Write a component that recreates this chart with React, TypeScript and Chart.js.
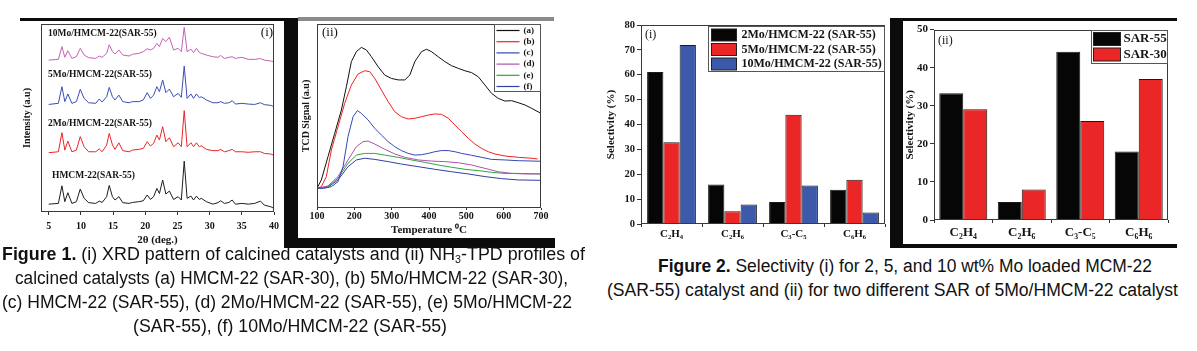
import React, { useEffect, useLayoutEffect, useRef } from 'react';
import { Chart, registerables } from 'chart.js';
Chart.register(...registerables);

// ---------------- DATA ----------------
// Figure 1 (i): XRD patterns (2θ in degrees, intensity in a.u.)
const xrdTheta = [5, 6.5, 7.05, 7.5, 7.97, 8.6, 9.3, 9.9, 10.5, 11.2, 12.3, 12.85, 13.3, 14.0, 14.4, 14.9, 15.3, 15.9, 16.5, 17.5, 18.0, 19.0, 19.7, 20.3, 20.8, 21.3, 21.8, 22.2, 22.7, 23.2, 23.75, 24.4, 25.1, 25.6, 26.05, 26.5, 27.1, 27.5, 27.95, 28.4, 28.7, 29.5, 30.5, 31.3, 31.7, 32.3, 33.0, 33.5, 34.0, 35.0, 36.0, 37.0, 37.9, 38.5, 39.5, 40];
const xrdHMCM = [3.7, 4.1, 13.5, 5.0, 9.8, 4.1, 5.0, 11.8, 6.8, 4.5, 4.1, 5.3, 4.6, 7.7, 13.7, 7.7, 5.9, 7.7, 4.5, 4.1, 4.6, 5.0, 5.5, 8.6, 6.2, 7.7, 12.1, 9.4, 16.6, 9.1, 10.7, 6.2, 7.7, 5.9, 26.7, 6.8, 8.0, 5.9, 8.0, 6.2, 6.8, 5.0, 3.7, 4.5, 5.5, 4.1, 4.6, 5.9, 3.7, 4.1, 3.7, 4.1, 5.3, 3.2, 2.3, 1.4];
const xrd2Mo = [31.2, 31.7, 41.9, 32.6, 37.4, 31.7, 32.6, 39.8, 34.4, 31.7, 31.7, 33.2, 31.7, 35.3, 41.5, 35.3, 33.0, 36.5, 32.3, 31.7, 32.6, 33.0, 33.5, 37.1, 34.8, 36.2, 40.6, 38.0, 45.1, 37.1, 39.2, 34.4, 36.5, 34.4, 53.7, 34.4, 36.5, 34.4, 36.5, 34.4, 34.9, 33.0, 32.3, 32.3, 33.0, 31.7, 32.3, 33.0, 31.7, 31.7, 31.4, 31.7, 31.7, 30.8, 30.5, 29.8];
const xrd5Mo = [57.0, 57.6, 66.5, 58.5, 62.6, 57.6, 58.5, 65.1, 60.2, 57.9, 57.6, 59.9, 58.3, 61.1, 66.1, 61.1, 59.4, 62.0, 58.5, 57.9, 58.5, 58.5, 59.4, 63.3, 60.2, 62.0, 66.5, 63.8, 70.1, 63.3, 65.2, 61.1, 62.9, 60.8, 77.5, 60.2, 62.6, 60.2, 62.6, 60.6, 61.1, 59.4, 57.9, 57.9, 58.5, 57.6, 57.9, 59.0, 57.2, 57.6, 57.2, 57.0, 57.9, 56.9, 56.5, 55.8];
const xrd10Mo = [80.7, 81.1, 87.9, 82.2, 85.7, 81.6, 82.5, 87.0, 83.4, 82.0, 81.6, 82.9, 82.2, 84.3, 88.9, 85.2, 84.0, 86.1, 83.4, 82.9, 83.8, 84.3, 85.2, 86.8, 86.1, 87.0, 89.7, 87.9, 92.3, 90.6, 92.9, 86.1, 87.0, 85.2, 98.2, 85.2, 86.5, 84.7, 87.0, 84.7, 84.3, 83.4, 82.5, 82.2, 83.2, 81.6, 82.2, 82.5, 81.6, 82.2, 81.1, 81.1, 81.5, 80.7, 80.2, 79.9];
const xrdNames = ['HMCM-22(SAR-55)', '2Mo/HMCM-22(SAR-55)', '5Mo/HMCM-22(SAR-55)', '10Mo/HMCM-22(SAR-55)'];
const xrdTicks = [5, 10, 15, 20, 25, 30, 35, 40];

// Figure 1 (ii): NH3-TPD profiles (temperature °C, TCD signal a.u.)
const tpdTempA = [100, 111.6, 129.5, 147.4, 165.3, 178.7, 192.1, 205.5, 218.9, 232.3, 245.8, 263.6, 281.5, 299.4, 317.3, 335.2, 348.6, 362.0, 379.9, 393.3, 406.7, 424.6, 442.4, 460.3, 478.2, 496.1, 514.0, 531.9, 549.7, 567.6, 585.5, 603.4, 621.3, 639.1, 657.0, 674.9, 700];
const tpdSigA = [12.1, 16.6, 29.1, 41.5, 54.0, 66.5, 79.9, 85.2, 87.5, 86.1, 82.5, 77.2, 72.7, 70.9, 70.1, 70.1, 72.7, 79.9, 85.2, 86.5, 85.2, 82.5, 79.9, 77.7, 76.3, 75.0, 74.0, 71.8, 67.4, 62.9, 60.2, 58.8, 59.0, 57.9, 56.7, 54.9, 52.2];
const tpdTempB = [100, 111.6, 125, 138.5, 156.3, 174.2, 192.1, 210, 227.9, 241.3, 254.7, 272.6, 290.5, 308.3, 326.2, 344.1, 362, 379.9, 397.8, 415.6, 433.5, 451.4, 469.3, 487.2, 505.1, 523, 540.8, 558.7, 576.6, 603.4, 639.1, 674.9, 691];
const tpdSigB = [12.1, 13.0, 18.4, 32.6, 45.1, 57.6, 67.4, 73.3, 75.0, 74.5, 70.9, 64.7, 58.5, 53.1, 50.4, 49.2, 49.6, 50.4, 51.3, 51.9, 51.7, 49.6, 46.0, 42.4, 38.9, 35.8, 33.5, 31.7, 30.5, 29.4, 28.7, 28.2, 27.8];
const tpdTempC = [100, 117.5, 138.5, 156.3, 169.7, 183.1, 196.6, 208.2, 218.9, 236.8, 254.7, 272.6, 290.5, 308.3, 326.2, 344.1, 362, 379.9, 397.8, 415.6, 433.5, 451.4, 469.3, 487.2, 514, 540.8, 567.6, 603.4, 639.1, 700];
const tpdSigC = [12.1, 12.1, 13.0, 15.7, 23.7, 39.8, 50.4, 53.7, 52.2, 48.7, 44.2, 40.6, 37.1, 34.4, 32.3, 30.8, 29.9, 30.1, 30.8, 31.7, 32.3, 32.3, 31.7, 30.8, 29.8, 28.7, 27.6, 27.3, 26.9, 26.6];
const tpdTempD = [100, 129.5, 156.3, 183.1, 205.5, 223.4, 236.8, 254.7, 281.5, 308.3, 335.2, 371, 406.7, 442.4, 478.2, 514, 549.7, 585.5, 621.3, 657, 700];
const tpdSigD = [12.1, 13.4, 18.4, 27.3, 34.4, 37.1, 37.4, 35.8, 33.0, 30.5, 28.7, 27.3, 26.7, 26.4, 25.8, 24.6, 22.8, 21.0, 20.1, 19.8, 19.8];
const tpdTempE = [100, 129.5, 156.3, 183.1, 205.5, 227.9, 254.7, 281.5, 317.3, 353, 388.8, 424.6, 460.3, 496.1, 531.9, 567.6, 603.4, 639.1, 700];
const tpdSigE = [12.1, 13.0, 17.5, 25.5, 29.9, 30.8, 30.8, 29.9, 28.7, 27.3, 26.0, 24.6, 23.4, 22.3, 21.6, 20.7, 20.1, 20.1, 19.8];
const tpdTempF = [100, 129.5, 156.3, 183.1, 205.5, 227.9, 254.7, 290.5, 326.2, 371, 415.6, 460.3, 505.1, 549.7, 594.4, 639.1, 700];
const tpdSigF = [12.1, 12.7, 16.6, 23.7, 27.3, 28.2, 27.6, 26.4, 25.1, 23.7, 22.3, 21.0, 19.8, 18.4, 17.3, 16.6, 16.4];
const tpdNames = ['(a)', '(b)', '(c)', '(d)', '(e)', '(f)'];

// Figure 2: selectivity (%)
const selCategories = ['C₂H₄', 'C₂H₆', 'C₃-C₅', 'C₆H₆'];
const selMoNames = ['2Mo/HMCM-22 (SAR-55)', '5Mo/HMCM-22 (SAR-55)', '10Mo/HMCM-22 (SAR-55)'];
const sel2Mo = [61.1, 15.9, 8.8, 13.8];
const sel5Mo = [32.9, 5.1, 43.9, 17.8];
const sel10Mo = [72.0, 7.8, 15.5, 4.6];
const selSarNames = ['SAR-55', 'SAR-30'];
const selSar55 = [33.3, 4.7, 44.2, 18.0];
const selSar30 = [29.1, 8.0, 26.0, 37.0];

// ---------------- STYLE ----------------
const SERIF = '"Liberation Serif", "Times New Roman", serif';
const SANS = '"Liberation Sans", Arial, sans-serif';
const INK = '#141414';
const RED = '#ea2626';
const BLUE = '#3d59aa';

Chart.defaults.font.family = SERIF;
Chart.defaults.color = INK;

const bf = (size: number) => ({ family: SERIF, size, weight: 'bold' as const });

type Note = { text: string; dx: number; dy: number; font: string; align?: CanvasTextAlign };
type Leg = { kind: 'line' | 'box'; width: number; height: number; dyTop: number; first: number; rowH: number; swX: number; swW: number; swH: number; textX: number; font: string };

function overlay(notes: Note[], leg?: Leg) {
  return {
    id: 'overlay',
    afterDraw(chart: any) {
      const { ctx, chartArea: a } = chart;
      ctx.save();
      const L = Math.round(a.left) + 0.5, T = Math.round(a.top) + 0.5;
      const R = Math.round(a.right) - 0.5, B = Math.round(a.bottom) - 0.5;
      ctx.strokeStyle = '#3a3a3a';
      ctx.lineWidth = 1;
      ctx.strokeRect(L, T, R - L, B - T);
      ctx.fillStyle = INK;
      ctx.textBaseline = 'middle';
      for (const n of notes) {
        ctx.font = n.font;
        ctx.textAlign = n.align || 'left';
        ctx.fillText(n.text, a.left + n.dx, a.top + n.dy);
      }
      if (leg) {
        const x0 = Math.round(a.right - leg.width) + 0.5;
        const y0 = Math.round(a.top + leg.dyTop) + 0.5;
        ctx.fillStyle = '#fff';
        ctx.fillRect(x0, y0, leg.width - 1, leg.height);
        ctx.strokeStyle = '#555';
        ctx.strokeRect(x0, y0, leg.width - 1, leg.height);
        chart.data.datasets.forEach((ds: any, i: number) => {
          const cy = y0 + leg.first + i * leg.rowH;
          if (leg.kind === 'line') {
            ctx.strokeStyle = ds.borderColor;
            ctx.lineWidth = 1.2;
            ctx.beginPath();
            ctx.moveTo(x0 + leg.swX, cy);
            ctx.lineTo(x0 + leg.swX + leg.swW, cy);
            ctx.stroke();
          } else {
            ctx.fillStyle = ds.backgroundColor;
            ctx.fillRect(x0 + leg.swX, cy - leg.swH / 2, leg.swW, leg.swH);
            ctx.strokeStyle = '#222';
            ctx.lineWidth = 1;
            ctx.strokeRect(x0 + leg.swX, cy - leg.swH / 2, leg.swW, leg.swH);
          }
          ctx.fillStyle = INK;
          ctx.font = leg.font;
          ctx.textAlign = 'left';
          ctx.fillText(ds.label, x0 + leg.textX, cy);
        });
      }
      ctx.restore();
    },
  };
}

const pts = (xs: number[], ys: number[]) => xs.map((x, i) => ({ x, y: ys[i] }));
const lineDs = (label: string, data: any[], color: string) => ({
  label, data, borderColor: color, backgroundColor: color, borderWidth: 1, pointRadius: 0, tension: 0,
});
const hiddenGrid = { display: false };
const tickGrid = (len: number) => ({ drawOnChartArea: false, drawTicks: true, tickLength: len, color: '#333' });

function xrdConfig(): any {
  return {
    type: 'line',
    data: {
      datasets: [
        lineDs(xrdNames[0], pts(xrdTheta, xrdHMCM), '#1e1e1e'),
        lineDs(xrdNames[1], pts(xrdTheta, xrd2Mo), '#ec2424'),
        lineDs(xrdNames[2], pts(xrdTheta, xrd5Mo), '#3b4db3'),
        lineDs(xrdNames[3], pts(xrdTheta, xrd10Mo), '#c462b6'),
      ],
    },
    options: {
      animation: false, responsive: false, devicePixelRatio: 1,
      layout: { padding: { left: 0, top: 8, right: 7, bottom: 0 } },
      plugins: { legend: { display: false }, tooltip: { enabled: false } },
      scales: {
        x: {
          type: 'linear', min: 3.8, max: 40,
          afterFit: (s: any) => { s.height = 38; },
          afterBuildTicks: (s: any) => { s.ticks = xrdTicks.map((v) => ({ value: v })); },
          ticks: { font: bf(10), color: INK, padding: 5, maxRotation: 0, autoSkip: false },
          grid: tickGrid(3), border: { display: false },
          title: { display: true, text: '2θ (deg.)', color: INK, font: bf(11), padding: { top: 0, bottom: 3 } },
        },
        y: {
          min: -0.5, max: 100,
          afterFit: (s: any) => { s.width = 31; },
          ticks: { display: false }, grid: hiddenGrid, border: { display: false },
          title: { display: true, text: 'Intensity (a.u)', color: INK, font: bf(10), padding: { top: 11, bottom: 0 } },
        },
      },
    },
    plugins: [overlay([
      { text: xrdNames[3], dx: 7, dy: 10, font: `bold 9.5px ${SERIF}` },
      { text: xrdNames[2], dx: 7, dy: 51, font: `bold 9.5px ${SERIF}` },
      { text: xrdNames[1], dx: 7, dy: 100, font: `bold 9.5px ${SERIF}` },
      { text: xrdNames[0], dx: 11, dy: 152, font: `bold 9.5px ${SERIF}` },
      { text: '(i)', dx: 226, dy: 9, font: `13px ${SERIF}`, align: 'center' },
    ])],
  };
}

function tpdConfig(): any {
  return {
    type: 'line',
    data: {
      datasets: [
        lineDs(tpdNames[0], pts(tpdTempA, tpdSigA), '#111111'),
        lineDs(tpdNames[1], pts(tpdTempB, tpdSigB), '#ee2222'),
        lineDs(tpdNames[2], pts(tpdTempC, tpdSigC), '#3448b2'),
        lineDs(tpdNames[3], pts(tpdTempD, tpdSigD), '#b24fb2'),
        lineDs(tpdNames[4], pts(tpdTempE, tpdSigE), '#2fa53a'),
        lineDs(tpdNames[5], pts(tpdTempF, tpdSigF), '#2f3fa6'),
      ],
    },
    options: {
      animation: false, responsive: false, devicePixelRatio: 1,
      layout: { padding: { left: 0, top: 10, right: 13, bottom: 0 } },
      plugins: { legend: { display: false }, tooltip: { enabled: false } },
      scales: {
        x: {
          type: 'linear', min: 100, max: 700,
          afterFit: (s: any) => { s.height = 30; },
          ticks: { stepSize: 100, font: bf(10), color: INK, padding: 0, maxRotation: 0, autoSkip: false },
          grid: tickGrid(2), border: { display: false },
          title: { display: true, text: 'Temperature ⁰C', color: INK, font: bf(11), padding: { top: 0, bottom: 1 } },
        },
        y: {
          min: 1.6, max: 100,
          afterFit: (s: any) => { s.width = 19; },
          ticks: { display: false }, grid: hiddenGrid, border: { display: false },
          title: { display: true, text: 'TCD Signal (a.u)', color: INK, font: bf(10), padding: { top: 2, bottom: 0 } },
        },
      },
    },
    plugins: [overlay(
      [{ text: '(ii)', dx: 5, dy: 9, font: `13px ${SERIF}` }],
      { kind: 'line', width: 47, height: 67, dyTop: 0, first: 6, rowH: 11.2, swX: 2, swW: 23, swH: 0, textX: 29, font: `bold 9px ${SERIF}` },
    )],
  };
}

const barDs = (label: string, data: number[], color: string, cat: number) => ({
  label, data, backgroundColor: color, borderColor: '#1a1a1a', borderWidth: 1,
  categoryPercentage: cat, barPercentage: 1.0,
});

function sel1Config(): any {
  return {
    type: 'bar',
    data: {
      labels: selCategories,
      datasets: [
        barDs(selMoNames[0], sel2Mo, '#060606', 0.8),
        barDs(selMoNames[1], sel5Mo, RED, 0.8),
        barDs(selMoNames[2], sel10Mo, BLUE, 0.8),
      ],
    },
    options: {
      animation: false, responsive: false, devicePixelRatio: 1,
      layout: { padding: { left: 0, top: 11, right: 5, bottom: 0 } },
      plugins: { legend: { display: false }, tooltip: { enabled: false } },
      scales: {
        x: {
          afterFit: (s: any) => { s.height = 30; },
          ticks: { font: bf(11), color: INK, padding: 1, maxRotation: 0 },
          grid: tickGrid(3), border: { display: false },
        },
        y: {
          min: 0, max: 80,
          afterFit: (s: any) => { s.width = 51; },
          ticks: { stepSize: 10, font: bf(10.5), color: INK, padding: 2 },
          grid: tickGrid(4), border: { display: false },
          title: { display: true, text: 'Selectivity (%)', color: INK, font: bf(11), padding: { top: 15, bottom: 0 } },
        },
      },
    },
    plugins: [overlay(
      [{ text: '(i)', dx: 4, dy: 10, font: `12px ${SERIF}` }],
      { kind: 'box', width: 177, height: 45, dyTop: 1, first: 8.5, rowH: 14.5, swX: 3, swW: 25, swH: 12, textX: 33, font: `bold 12px ${SERIF}` },
    )],
  };
}

function sel2Config(): any {
  return {
    type: 'bar',
    data: {
      labels: selCategories,
      datasets: [
        barDs(selSarNames[0], selSar55, '#060606', 0.82),
        barDs(selSarNames[1], selSar30, RED, 0.82),
      ],
    },
    options: {
      animation: false, responsive: false, devicePixelRatio: 1,
      layout: { padding: { left: 0, top: 7, right: 8, bottom: 0 } },
      plugins: { legend: { display: false }, tooltip: { enabled: false } },
      scales: {
        x: {
          afterFit: (s: any) => { s.height = 24; },
          ticks: { font: bf(13), color: INK, padding: 2, maxRotation: 0 },
          grid: tickGrid(3), border: { display: false },
        },
        y: {
          min: 0, max: 50,
          afterFit: (s: any) => { s.width = 31; },
          ticks: { stepSize: 10, font: bf(11), color: INK, padding: 2 },
          grid: tickGrid(4), border: { display: false },
          title: { display: true, text: 'Selectivity (%)', color: INK, font: bf(11), padding: { top: 1, bottom: 0 } },
        },
      },
    },
    plugins: [overlay(
      [{ text: '(ii)', dx: 4, dy: 11, font: `12px ${SERIF}` }],
      { kind: 'box', width: 77, height: 33, dyTop: 0, first: 8.5, rowH: 15.5, swX: 2, swW: 27, swH: 13, textX: 32, font: `bold 13px ${SERIF}` },
    )],
  };
}

function ChartBox({ left, top, width, height, make }: { left: number; top: number; width: number; height: number; make: () => any }) {
  const ref = useRef<HTMLCanvasElement>(null);
  useEffect(() => {
    const c = new Chart(ref.current as HTMLCanvasElement, make());
    return () => c.destroy();
  }, []);
  return <canvas ref={ref} width={width} height={height} style={{ position: 'absolute', left, top, width, height }} />;
}

function FitLine({ left, right, cy, size = 18, children }: { left: number; right: number; cy: number; size?: number; children: React.ReactNode }) {
  const ref = useRef<HTMLSpanElement>(null);
  useLayoutEffect(() => {
    const el = ref.current as HTMLSpanElement;
    el.style.transform = 'none';
    const w = el.getBoundingClientRect().width;
    if (w > 0) el.style.transform = `scaleX(${(right - left) / w})`;
  }, []);
  return (
    <span ref={ref} style={{
      position: 'absolute', left, top: cy - size * 0.6, whiteSpace: 'nowrap', fontFamily: SANS,
      fontSize: size, lineHeight: `${size * 1.2}px`, transformOrigin: 'left top', color: '#111',
    }}>{children}</span>
  );
}

const Bar = ({ l, t, w, h, c = '#0c0c0c' }: { l: number; t: number; w: number; h: number; c?: string }) => (
  <div style={{ position: 'absolute', left: l, top: t, width: w, height: h, background: c }} />
);

const sub: React.CSSProperties = { fontSize: '60%', verticalAlign: '-0.3em', lineHeight: 0 };

export default function App() {
  return (
    <div style={{ position: 'fixed', left: 0, top: 0, width: 1197, height: 351, background: '#fff', overflow: 'hidden' }}>
      {/* panel frames */}
      <Bar l={20} t={18} w={265} h={3} />
      <Bar l={298} t={17} w={256} h={4} c="#8a8a8a" />
      <Bar l={284} t={18} w={14} h={230} />
      <Bar l={284} t={238} w={271} h={10} />
      <Bar l={890} t={18} w={287} h={3} />
      <Bar l={890} t={18} w={13} h={230} />
      <Bar l={890} t={244} w={287} h={4} />

      <ChartBox left={10} top={16} width={274} height={234} make={xrdConfig} />
      <ChartBox left={298} top={14} width={256} height={224} make={tpdConfig} />
      <ChartBox left={590} top={14} width={300} height={240} make={sel1Config} />
      <ChartBox left={903} top={21} width={273} height={223} make={sel2Config} />

      <FitLine left={2} right={585} cy={255}><b>Figure 1.</b> (i) XRD pattern of calcined catalysts and (ii) NH<span style={sub}>3</span>-TPD profiles of</FitLine>
      <FitLine left={15} right={568} cy={279}>calcined catalysts (a) HMCM-22 (SAR-30), (b) 5Mo/HMCM-22 (SAR-30),</FitLine>
      <FitLine left={2} right={572} cy={303}>(c) HMCM-22 (SAR-55), (d) 2Mo/HMCM-22 (SAR-55), (e) 5Mo/HMCM-22</FitLine>
      <FitLine left={133} right={447} cy={327}>(SAR-55), (f) 10Mo/HMCM-22 (SAR-55)</FitLine>

      <FitLine left={658} right={1152} cy={267}><b>Figure 2.</b> Selectivity (i) for 2, 5, and 10 wt% Mo loaded MCM-22</FitLine>
      <FitLine left={607} right={1178} cy={291}>(SAR-55) catalyst and (ii) for two different SAR of 5Mo/HMCM-22 catalyst</FitLine>
    </div>
  );
}
